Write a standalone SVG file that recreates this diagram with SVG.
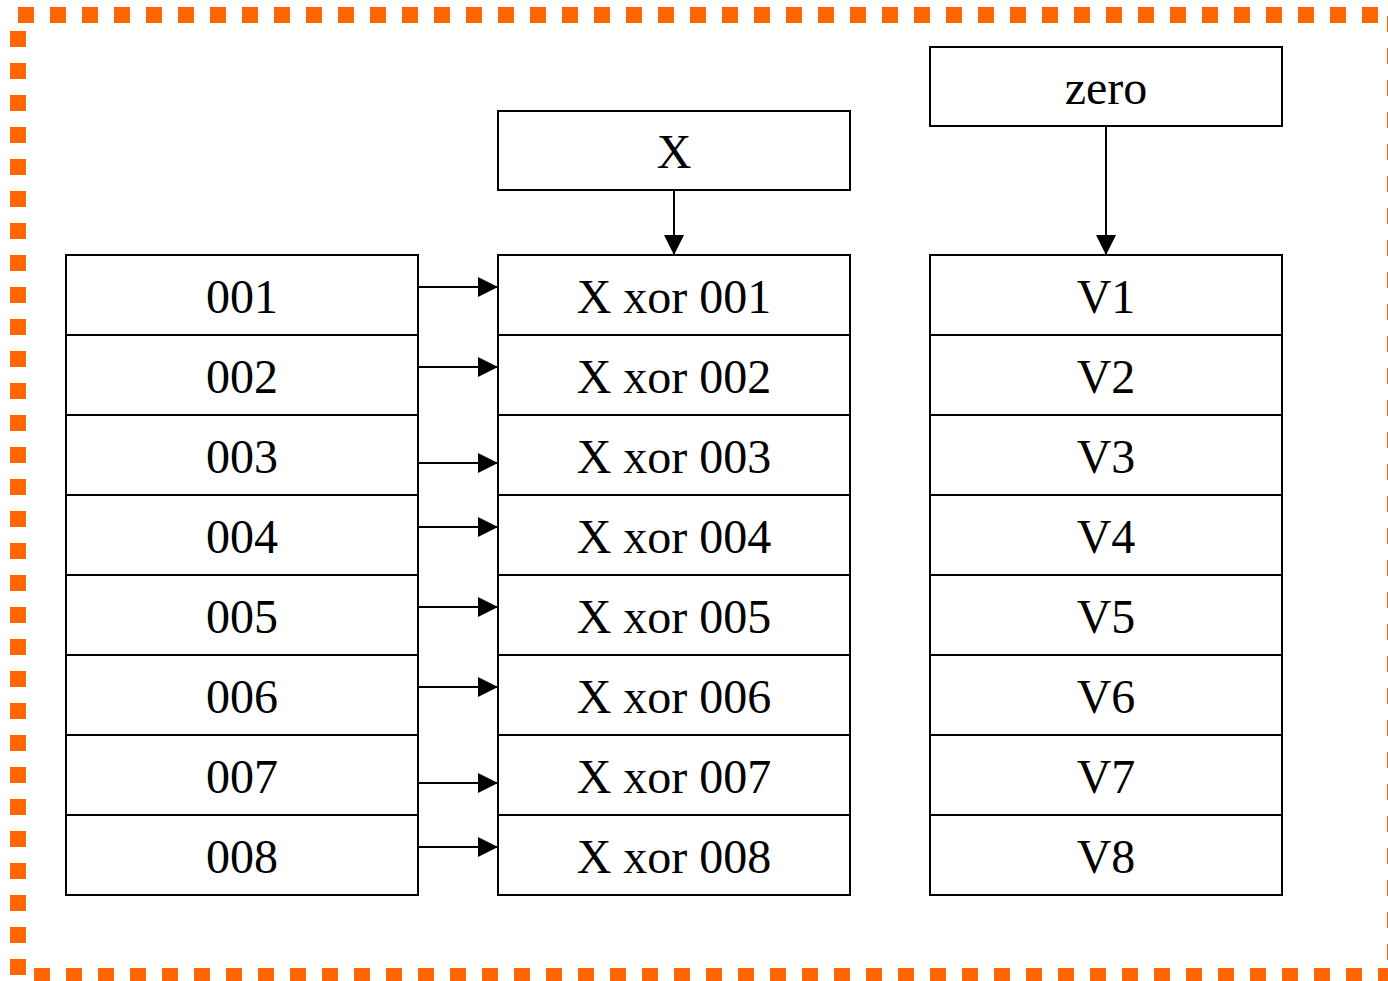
<svg xmlns="http://www.w3.org/2000/svg" width="1388" height="981" viewBox="0 0 1388 981">
<defs>
<style>
.b{fill:#fff;stroke:#000;stroke-width:2}
.t{font-family:"Liberation Serif","Times New Roman",serif;font-size:48px;fill:#000;text-anchor:middle}
.c{stroke:#000;stroke-width:2;fill:none;marker-end:url(#ah)}
.d{stroke:#FF6600;stroke-width:16;fill:none}
</style>
<marker id="ah" markerUnits="userSpaceOnUse" markerWidth="20" markerHeight="20" refX="20" refY="10" orient="auto">
<path d="M0,0 L20,10 L0,20 Z" fill="#000"/>
</marker>
</defs>
<rect width="1388" height="981" fill="#fff"/>
<g id="border">
<line class="d" x1="18" y1="15" x2="1395" y2="15" stroke-dasharray="16 16"/>
<line class="d" x1="1395" y1="16" x2="1395" y2="981" stroke-dasharray="16 16"/>
<line class="d" x1="18" y1="31" x2="18" y2="976" stroke-dasharray="16 16"/>
<line class="d" x1="34" y1="976" x2="1395" y2="976" stroke-dasharray="16 16"/>
</g>
<g id="nodeX"><rect class="b" x="498" y="111" width="352" height="79"/><text class="t" x="674" y="168">X</text></g>
<g id="nodeZero"><rect class="b" x="930" y="47" width="352" height="79"/><text class="t" x="1106" y="104">zero</text></g>
<g id="n001"><rect class="b" x="66" y="255" width="352" height="80"/><text class="t" x="242" y="313">001</text></g>
<g id="n002"><rect class="b" x="66" y="335" width="352" height="80"/><text class="t" x="242" y="393">002</text></g>
<g id="n003"><rect class="b" x="66" y="415" width="352" height="80"/><text class="t" x="242" y="473">003</text></g>
<g id="n004"><rect class="b" x="66" y="495" width="352" height="80"/><text class="t" x="242" y="553">004</text></g>
<g id="n005"><rect class="b" x="66" y="575" width="352" height="80"/><text class="t" x="242" y="633">005</text></g>
<g id="n006"><rect class="b" x="66" y="655" width="352" height="80"/><text class="t" x="242" y="713">006</text></g>
<g id="n007"><rect class="b" x="66" y="735" width="352" height="80"/><text class="t" x="242" y="793">007</text></g>
<g id="n008"><rect class="b" x="66" y="815" width="352" height="80"/><text class="t" x="242" y="873">008</text></g>
<g id="x001"><rect class="b" x="498" y="255" width="352" height="80"/><text class="t" x="674" y="313">X xor 001</text></g>
<g id="x002"><rect class="b" x="498" y="335" width="352" height="80"/><text class="t" x="674" y="393">X xor 002</text></g>
<g id="x003"><rect class="b" x="498" y="415" width="352" height="80"/><text class="t" x="674" y="473">X xor 003</text></g>
<g id="x004"><rect class="b" x="498" y="495" width="352" height="80"/><text class="t" x="674" y="553">X xor 004</text></g>
<g id="x005"><rect class="b" x="498" y="575" width="352" height="80"/><text class="t" x="674" y="633">X xor 005</text></g>
<g id="x006"><rect class="b" x="498" y="655" width="352" height="80"/><text class="t" x="674" y="713">X xor 006</text></g>
<g id="x007"><rect class="b" x="498" y="735" width="352" height="80"/><text class="t" x="674" y="793">X xor 007</text></g>
<g id="x008"><rect class="b" x="498" y="815" width="352" height="80"/><text class="t" x="674" y="873">X xor 008</text></g>
<g id="v1"><rect class="b" x="930" y="255" width="352" height="80"/><text class="t" x="1106" y="313">V1</text></g>
<g id="v2"><rect class="b" x="930" y="335" width="352" height="80"/><text class="t" x="1106" y="393">V2</text></g>
<g id="v3"><rect class="b" x="930" y="415" width="352" height="80"/><text class="t" x="1106" y="473">V3</text></g>
<g id="v4"><rect class="b" x="930" y="495" width="352" height="80"/><text class="t" x="1106" y="553">V4</text></g>
<g id="v5"><rect class="b" x="930" y="575" width="352" height="80"/><text class="t" x="1106" y="633">V5</text></g>
<g id="v6"><rect class="b" x="930" y="655" width="352" height="80"/><text class="t" x="1106" y="713">V6</text></g>
<g id="v7"><rect class="b" x="930" y="735" width="352" height="80"/><text class="t" x="1106" y="793">V7</text></g>
<g id="v8"><rect class="b" x="930" y="815" width="352" height="80"/><text class="t" x="1106" y="873">V8</text></g>
<g id="connectors">
<line class="c" x1="674" y1="190" x2="674" y2="255"/>
<line class="c" x1="1106" y1="126" x2="1106" y2="255"/>
<line class="c" x1="418" y1="287" x2="498" y2="287"/>
<line class="c" x1="418" y1="367" x2="498" y2="367"/>
<line class="c" x1="418" y1="463" x2="498" y2="463"/>
<line class="c" x1="418" y1="527" x2="498" y2="527"/>
<line class="c" x1="418" y1="607" x2="498" y2="607"/>
<line class="c" x1="418" y1="687" x2="498" y2="687"/>
<line class="c" x1="418" y1="783" x2="498" y2="783"/>
<line class="c" x1="418" y1="847" x2="498" y2="847"/>
</g>
</svg>
